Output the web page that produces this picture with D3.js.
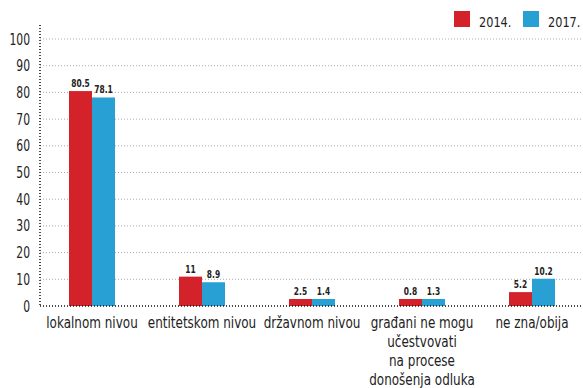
<!DOCTYPE html>
<html>
<head>
<meta charset="utf-8">
<script src="https://cdn.jsdelivr.net/npm/d3@7"></script>
<style>
  body { margin: 0; background: #fff; }
  text { font-family: "DejaVu Sans", sans-serif; fill: #222; }
</style>
</head>
<body>
<div id="chart"></div>
<script>
const categories = ['lokalnom nivou', 'entitetskom nivou', 'državnom nivou',
  'građani ne mogu|učestvovati|na procese|donošenja odluka', 'ne zna/obija'];
const values2014 = [80.5, 11, 2.5, 0.8, 5.2];
const values2017 = [78.1, 8.9, 1.4, 1.3, 10.2];
const seriesNames = ['2014.', '2017.'];
const seriesColors = ['#d3222a', '#28a0d3'];
const yTicks = [0, 10, 20, 30, 40, 50, 60, 70, 80, 90, 100];

const width = 583, height = 388;
const margin = { left: 40, right: 0, top: 39, bottom: 82 };

const svg = d3.select('#chart').append('svg')
  .attr('width', width).attr('height', height);

// condensed look: squeeze text horizontally around its anchor point
const squeeze = (px, py, sx) => `translate(${px},${py}) scale(${sx},1)`;

const y = d3.scaleLinear().domain([0, 100]).range([height - margin.bottom, margin.top]);
const x = d3.scaleBand().domain(d3.range(categories.length)).range([37, 587]);
const barW = 23;
const minH = 7;

// Grid lines
svg.append('g').selectAll('line').data(yTicks.filter(d => d > 0)).join('line')
  .attr('x1', margin.left).attr('x2', width)
  .attr('y1', d => y(d)).attr('y2', d => y(d))
  .attr('stroke', '#aaa').attr('stroke-width', 1).attr('stroke-dasharray', '1,2');

// Y tick labels
svg.append('g').selectAll('text').data(yTicks).join('text')
  .attr('transform', d => squeeze(30, y(d) + 5.5, 0.72))
  .attr('text-anchor', 'end').attr('font-size', '15px')
  .text(d => d);

// Bars
const series = [values2014, values2017];
series.forEach((vals, s) => {
  const h = d => Math.max(minH, y(0) - y(d));
  svg.append('g').selectAll('rect').data(vals).join('rect')
    .attr('x', (d, i) => x(i) + x.bandwidth() / 2 - barW + s * barW)
    .attr('y', d => y(0) - h(d))
    .attr('width', barW)
    .attr('height', h)
    .attr('fill', seriesColors[s]);
  svg.append('g').selectAll('text').data(vals).join('text')
    .attr('transform', (d, i) => squeeze(x(i) + x.bandwidth() / 2 - barW / 2 + s * barW, y(0) - h(d) - 4, 0.75))
    .attr('text-anchor', 'middle').attr('font-size', '10px').attr('font-weight', 'bold')
    .attr('fill', '#333')
    .text(d => d);
});

// Axes (dotted, black)
svg.append('line')
  .attr('x1', margin.left).attr('x2', width)
  .attr('y1', y(0)).attr('y2', y(0))
  .attr('stroke', '#111').attr('stroke-width', 1.5).attr('stroke-dasharray', '1,2');
svg.append('line')
  .attr('x1', margin.left).attr('x2', margin.left)
  .attr('y1', 25).attr('y2', y(0))
  .attr('stroke', '#111').attr('stroke-width', 1.5).attr('stroke-dasharray', '1,2');

// Category labels
const cat = svg.append('g').selectAll('text').data(categories).join('text')
  .attr('text-anchor', 'middle').attr('font-size', '15px')
  .attr('transform', (d, i) => squeeze(x(i) + x.bandwidth() / 2, 328, 0.8));
cat.selectAll('tspan').data(d => d.split('|')).join('tspan')
  .attr('x', 0)
  .attr('dy', (d, i) => i === 0 ? 0 : 19)
  .text(d => d);

// Legend
const legendX = [454, 523];
seriesNames.forEach((name, i) => {
  svg.append('rect').attr('x', legendX[i]).attr('y', 11)
    .attr('width', 16).attr('height', 16).attr('fill', seriesColors[i]);
  svg.append('text').attr('transform', squeeze(legendX[i] + 25, 26.5, 0.78))
    .attr('font-size', '14.5px').text(name);
});
</script>
</body>
</html>
